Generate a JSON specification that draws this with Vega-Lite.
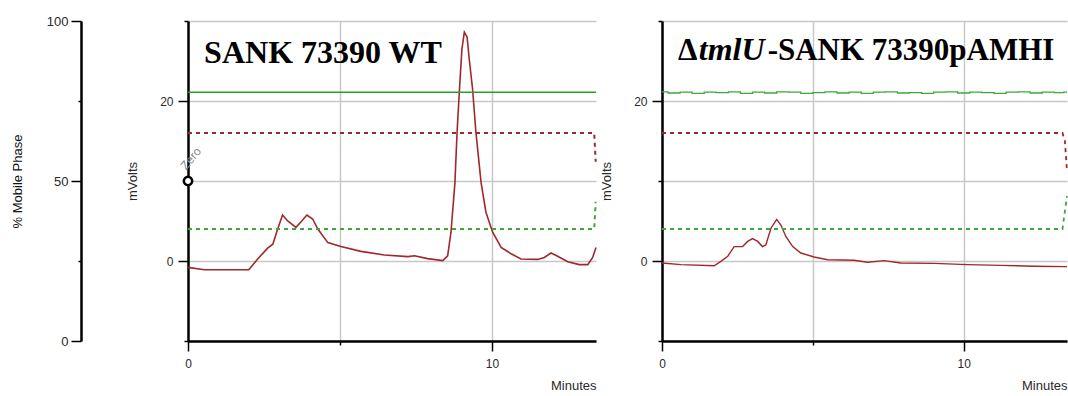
{
  "$schema": "https://vega.github.io/schema/vega-lite/v6.json",
  "padding": {"left": 11, "top": 15, "right": 0, "bottom": 0},
  "spacing": 66,
  "bounds": "flush",
  "config": {
    "view": {"stroke": null},
    "font": "Liberation Sans",
    "axis": {
      "labelFont": "Liberation Sans",
      "titleFont": "Liberation Sans",
      "labelColor": "#2A2A2A",
      "titleColor": "#2A2A2A",
      "labelFontSize": 12,
      "titleFontSize": 13,
      "titleFontWeight": "normal",
      "domainColor": "#000000",
      "domainWidth": 2.5,
      "tickColor": "#000000",
      "tickWidth": 1.5,
      "gridColor": "#C8C8C8",
      "gridWidth": 1.5
    }
  },
  "datasets": {
    "trace_wt": [
      {"t": 0.0, "mv": -0.8}, {"t": 0.54, "mv": -1.1}, {"t": 2.0, "mv": -1.1}, {"t": 2.29, "mv": 0.25},
      {"t": 2.62, "mv": 1.6}, {"t": 2.79, "mv": 2.1}, {"t": 2.95, "mv": 4.0}, {"t": 3.11, "mv": 5.75},
      {"t": 3.28, "mv": 5.0}, {"t": 3.55, "mv": 4.2}, {"t": 3.72, "mv": 4.9}, {"t": 3.91, "mv": 5.75},
      {"t": 4.1, "mv": 5.25}, {"t": 4.27, "mv": 4.0}, {"t": 4.6, "mv": 2.3}, {"t": 5.03, "mv": 1.8},
      {"t": 5.69, "mv": 1.2}, {"t": 6.46, "mv": 0.75}, {"t": 7.23, "mv": 0.55}, {"t": 7.45, "mv": 0.65},
      {"t": 7.88, "mv": 0.3}, {"t": 8.38, "mv": 0.05}, {"t": 8.54, "mv": 0.65}, {"t": 8.65, "mv": 3.6},
      {"t": 8.78, "mv": 9.8}, {"t": 8.85, "mv": 16.1}, {"t": 8.93, "mv": 21.5}, {"t": 9.01, "mv": 26.5},
      {"t": 9.09, "mv": 28.6}, {"t": 9.18, "mv": 28.0}, {"t": 9.25, "mv": 25.25}, {"t": 9.36, "mv": 21.5},
      {"t": 9.47, "mv": 16.1}, {"t": 9.64, "mv": 9.8}, {"t": 9.8, "mv": 6.1}, {"t": 10.02, "mv": 3.6},
      {"t": 10.3, "mv": 1.7}, {"t": 10.63, "mv": 0.9}, {"t": 10.95, "mv": 0.25}, {"t": 11.5, "mv": 0.2},
      {"t": 11.72, "mv": 0.45}, {"t": 11.94, "mv": 1.0}, {"t": 12.16, "mv": 0.6}, {"t": 12.49, "mv": -0.1},
      {"t": 12.87, "mv": -0.45}, {"t": 13.15, "mv": -0.45}, {"t": 13.31, "mv": 0.45}, {"t": 13.42, "mv": 1.7}
    ],
    "trace_ko": [
      {"t": 0.0, "mv": -0.25}, {"t": 0.63, "mv": -0.45}, {"t": 1.73, "mv": -0.6}, {"t": 1.95, "mv": -0.05},
      {"t": 2.18, "mv": 0.6}, {"t": 2.39, "mv": 1.8}, {"t": 2.67, "mv": 1.8}, {"t": 2.84, "mv": 2.45},
      {"t": 3.0, "mv": 2.8}, {"t": 3.17, "mv": 2.45}, {"t": 3.33, "mv": 1.8}, {"t": 3.44, "mv": 2.0},
      {"t": 3.61, "mv": 4.1}, {"t": 3.8, "mv": 5.2}, {"t": 3.94, "mv": 4.5}, {"t": 4.1, "mv": 3.1},
      {"t": 4.33, "mv": 1.8}, {"t": 4.6, "mv": 1.0}, {"t": 5.04, "mv": 0.5}, {"t": 5.49, "mv": 0.15},
      {"t": 6.37, "mv": 0.1}, {"t": 6.81, "mv": -0.15}, {"t": 7.36, "mv": 0.05}, {"t": 7.91, "mv": -0.25},
      {"t": 9.02, "mv": -0.3}, {"t": 10.12, "mv": -0.45}, {"t": 11.23, "mv": -0.55}, {"t": 12.33, "mv": -0.65},
      {"t": 13.42, "mv": -0.7}
    ],
    "ref_wt": [{"t": 0.0, "mv": 21.1}, {"t": 13.42, "mv": 21.1}],
    "ref_ko": [
      {"t": 0.0, "mv": 21.15}, {"t": 0.4, "mv": 21.0}, {"t": 0.8, "mv": 21.1}, {"t": 1.2, "mv": 20.95},
      {"t": 1.6, "mv": 21.1}, {"t": 2.0, "mv": 21.05}, {"t": 2.4, "mv": 21.15}, {"t": 2.8, "mv": 20.95},
      {"t": 3.2, "mv": 21.1}, {"t": 3.6, "mv": 21.0}, {"t": 4.0, "mv": 21.15}, {"t": 4.4, "mv": 21.1},
      {"t": 4.8, "mv": 20.95}, {"t": 5.2, "mv": 21.05}, {"t": 5.6, "mv": 21.15}, {"t": 6.0, "mv": 21.0},
      {"t": 6.4, "mv": 21.1}, {"t": 6.8, "mv": 20.95}, {"t": 7.2, "mv": 21.1}, {"t": 7.6, "mv": 21.15},
      {"t": 8.0, "mv": 21.0}, {"t": 8.4, "mv": 21.05}, {"t": 8.8, "mv": 20.95}, {"t": 9.2, "mv": 21.1},
      {"t": 9.6, "mv": 21.15}, {"t": 10.0, "mv": 21.0}, {"t": 10.4, "mv": 21.1}, {"t": 10.8, "mv": 21.05},
      {"t": 11.2, "mv": 20.95}, {"t": 11.6, "mv": 21.1}, {"t": 12.0, "mv": 21.15}, {"t": 12.4, "mv": 21.0},
      {"t": 12.8, "mv": 21.1}, {"t": 13.2, "mv": 21.05}, {"t": 13.42, "mv": 21.1}
    ],
    "phase_wt": [
      {"t": 0.0, "pct": 65, "solvent": "A"}, {"t": 13.36, "pct": 65, "solvent": "A"}, {"t": 13.41, "pct": 56, "solvent": "A"},
      {"t": 0.0, "pct": 35, "solvent": "B"}, {"t": 13.36, "pct": 35, "solvent": "B"}, {"t": 13.41, "pct": 43.5, "solvent": "B"}
    ],
    "phase_ko": [
      {"t": 0.0, "pct": 65, "solvent": "A"}, {"t": 13.27, "pct": 65, "solvent": "A"}, {"t": 13.35, "pct": 62.5, "solvent": "A"}, {"t": 13.42, "pct": 53, "solvent": "A"},
      {"t": 0.0, "pct": 35, "solvent": "B"}, {"t": 13.27, "pct": 35, "solvent": "B"}, {"t": 13.35, "pct": 40.5, "solvent": "B"}, {"t": 13.42, "pct": 45.3, "solvent": "B"}
    ],
    "labels": [
      {"panel": "wt", "t": 0.53, "mv": 24.75, "label": "SANK 73390 WT"},
      {"panel": "ko", "t": 0.53, "mv": 25.1, "label": "Δ"},
      {"panel": "ko", "t": 1.22, "mv": 25.1, "label": "tmlU"},
      {"panel": "ko", "t": 3.5, "mv": 25.1, "label": "-SANK 73390pAMHI"}
    ],
    "zero": [{"t": 0, "mv": 10, "label": "Zero"}]
  },
  "hconcat": [
    {
      "width": 408,
      "height": 320,
      "layer": [
        {
          "layer": [
            {
              "data": {"name": "trace_wt"},
              "mark": {"type": "line", "color": "#A0282A", "strokeWidth": 1.6},
              "encoding": {
                "x": {"field": "t", "type": "quantitative", "scale": {"domain": [0, 13.42], "nice": false, "zero": false},
                  "axis": {"values": [0, 5, 10], "labelExpr": "datum.value == 5 ? '' : datum.label", "labelFlush": false,
                    "title": "Minutes", "titleAnchor": "end", "titlePadding": 10, "labelPadding": 7,
                    "tickSize": {"condition": {"test": "datum.value == 5", "value": 4}, "value": 10}}},
                "y": {"field": "mv", "type": "quantitative", "scale": {"domain": [-10, 30], "nice": false, "zero": false},
                  "axis": {"values": [-10, 0, 10, 20, 30], "labelExpr": "datum.value == 0 || datum.value == 20 ? datum.label : ''",
                    "title": "mVolts", "titlePadding": 20, "labelPadding": 5,
                    "tickSize": {"condition": {"test": "datum.value == 0 || datum.value == 20", "value": 10}, "value": 4}}}
              }
            },
            {
              "data": {"name": "ref_wt"},
              "mark": {"type": "line", "color": "#2E9B2E", "strokeWidth": 1.5},
              "encoding": {"x": {"field": "t", "type": "quantitative"}, "y": {"field": "mv", "type": "quantitative"}}
            },
            {
              "data": {"name": "labels"},
              "transform": [{"filter": "datum.panel == 'wt'"}],
              "mark": {"type": "text", "font": "Liberation Serif", "fontWeight": "bold", "fontSize": 32, "align": "left", "baseline": "alphabetic", "color": "#000000"},
              "encoding": {"x": {"field": "t", "type": "quantitative"}, "y": {"field": "mv", "type": "quantitative"}, "text": {"field": "label"}}
            },
            {
              "data": {"name": "zero"},
              "mark": {"type": "text", "align": "left", "baseline": "middle", "angle": -50, "fontSize": 12, "color": "#8A8A8A", "dx": 6.7, "dy": -12.2},
              "encoding": {"x": {"field": "t", "type": "quantitative"}, "y": {"field": "mv", "type": "quantitative"}, "text": {"field": "label"}}
            },
            {
              "data": {"name": "zero"},
              "mark": {"type": "point", "shape": "circle", "size": 70, "filled": false, "fill": "#FFFFFF", "stroke": "#000000", "strokeWidth": 2.5, "opacity": 1},
              "encoding": {"x": {"field": "t", "type": "quantitative"}, "y": {"field": "mv", "type": "quantitative"}}
            }
          ]
        },
        {
          "data": {"name": "phase_wt"},
          "mark": {"type": "line", "strokeDash": [4, 4], "strokeWidth": 2},
          "encoding": {
            "x": {"field": "t", "type": "quantitative"},
            "y": {"field": "pct", "type": "quantitative", "scale": {"domain": [0, 100], "nice": false},
              "axis": {"orient": "left", "offset": 107, "grid": false, "values": [0, 25, 50, 75, 100],
                "labelExpr": "datum.value % 50 == 0 ? datum.label : ''", "labelFontSize": 13,
                "title": "% Mobile Phase", "titlePadding": 22, "labelPadding": 3, "titleColor": "#111111",
                "tickSize": {"condition": {"test": "datum.value % 50 == 0", "value": 10}, "value": 3}}},
            "color": {"field": "solvent", "type": "nominal", "scale": {"domain": ["A", "B"], "range": ["#A0282A", "#3DA63D"]}, "legend": null}
          }
        }
      ],
      "resolve": {"scale": {"y": "independent"}}
    },
    {
      "width": 405,
      "height": 320,
      "layer": [
        {
          "layer": [
            {
              "data": {"name": "trace_ko"},
              "mark": {"type": "line", "color": "#A0282A", "strokeWidth": 1.4},
              "encoding": {
                "x": {"field": "t", "type": "quantitative", "scale": {"domain": [0, 13.42], "nice": false, "zero": false},
                  "axis": {"values": [0, 5, 10], "labelExpr": "datum.value == 5 ? '' : datum.label", "labelFlush": false,
                    "title": "Minutes", "titleAnchor": "end", "titlePadding": 10, "labelPadding": 7,
                    "tickSize": {"condition": {"test": "datum.value == 5", "value": 4}, "value": 10}}},
                "y": {"field": "mv", "type": "quantitative", "scale": {"domain": [-10, 30], "nice": false, "zero": false},
                  "axis": {"values": [-10, 0, 10, 20, 30], "labelExpr": "datum.value == 0 || datum.value == 20 ? datum.label : ''",
                    "title": "mVolts", "titlePadding": 20, "labelPadding": 5,
                    "tickSize": {"condition": {"test": "datum.value == 0 || datum.value == 20", "value": 10}, "value": 4}}}
              }
            },
            {
              "data": {"name": "ref_ko"},
              "mark": {"type": "line", "color": "#3DA63D", "strokeWidth": 1.3, "interpolate": "step"},
              "encoding": {"x": {"field": "t", "type": "quantitative"}, "y": {"field": "mv", "type": "quantitative"}}
            },
            {
              "data": {"name": "labels"},
              "transform": [{"filter": "datum.panel == 'ko' && datum.label != 'tmlU'"}],
              "mark": {"type": "text", "font": "Liberation Serif", "fontWeight": "bold", "fontSize": 31, "align": "left", "baseline": "alphabetic", "color": "#000000"},
              "encoding": {"x": {"field": "t", "type": "quantitative"}, "y": {"field": "mv", "type": "quantitative"}, "text": {"field": "label"}}
            },
            {
              "data": {"name": "labels"},
              "transform": [{"filter": "datum.panel == 'ko' && datum.label == 'tmlU'"}],
              "mark": {"type": "text", "font": "Liberation Serif", "fontWeight": "bold", "fontStyle": "italic", "fontSize": 32, "align": "left", "baseline": "alphabetic", "color": "#000000"},
              "encoding": {"x": {"field": "t", "type": "quantitative"}, "y": {"field": "mv", "type": "quantitative"}, "text": {"field": "label"}}
            }
          ]
        },
        {
          "data": {"name": "phase_ko"},
          "mark": {"type": "line", "strokeDash": [4, 4], "strokeWidth": 1.8},
          "encoding": {
            "x": {"field": "t", "type": "quantitative"},
            "y": {"field": "pct", "type": "quantitative", "scale": {"domain": [0, 100], "nice": false}, "axis": null},
            "color": {"field": "solvent", "type": "nominal", "scale": {"domain": ["A", "B"], "range": ["#A0282A", "#3DA63D"]}, "legend": null}
          }
        }
      ],
      "resolve": {"scale": {"y": "independent"}}
    }
  ]
}
